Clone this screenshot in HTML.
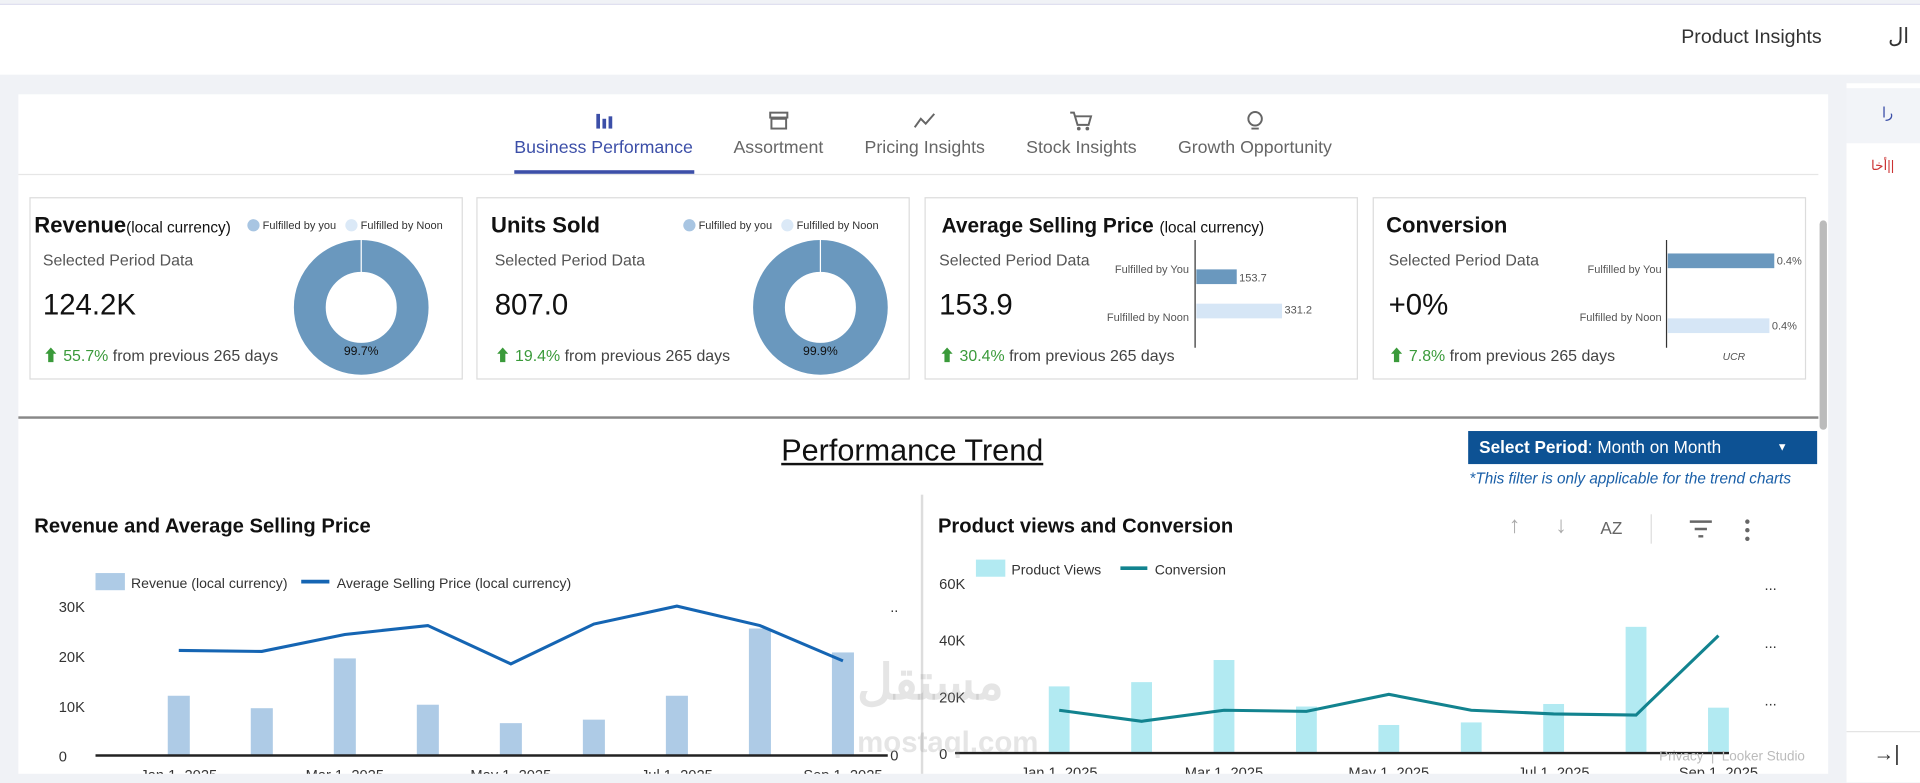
<!DOCTYPE html>
<html><head><meta charset="utf-8">
<style>
html,body{margin:0;padding:0;width:1920px;height:783px;overflow:hidden;background:#f0f2f6;font-family:"Liberation Sans","Noto Sans CJK SC",sans-serif}
#stage{position:absolute;left:0;top:0;width:1568px;height:639px;transform:scale(1.22449);transform-origin:0 0;background:#f0f2f6}
.abs{position:absolute}
.t{position:absolute;white-space:nowrap}
.card{position:absolute;top:161px;width:352px;height:147px;border:1px solid #dcdcdc;background:#fff}
.tab{position:absolute;top:113px;font-size:14.5px;color:#666;text-align:center}
.icon{position:absolute;top:90px;font-size:17px;color:#666}
.green{color:#3a9a3a}
</style></head><body>
<div id="stage">
  <div class="abs" style="left:0;top:3px;width:1568px;height:57px;background:#fff;border-top:1px solid #dde"></div>
  <div class="t" style="left:1373px;top:22px;font-size:16px;color:#333">Product Insights</div>
  <div class="t" style="left:1542px;top:20px;font-size:17px;color:#333">ال</div>
  <div class="abs" style="left:1508px;top:68px;width:60px;height:571px;background:#fff"></div>
  <div class="abs" style="left:1508px;top:72px;width:60px;height:45px;background:#f2f4f8"></div>
  <div class="t" style="left:1537px;top:85px;font-size:12px;color:#3c4fa8">را</div>
  <div class="t" style="left:1528px;top:129px;font-size:11px;color:#c33">أخا||</div>
  <div class="abs" style="left:1508px;top:597px;width:60px;height:1px;background:#e4e4e4"></div>
  <div class="t" style="left:1530px;top:606px;font-size:17px;color:#333">→|</div>

  <div class="abs" style="left:15px;top:77px;width:1478px;height:555px;background:#fff"></div>
  <div class="abs" style="left:1486px;top:180px;width:6px;height:171px;background:#bbb;border-radius:3px"></div>

  <!-- tabs -->
  <div class="icon" style="left:485px;color:#3c4fa8">
    <svg width="18" height="16"><rect x="2" y="3" width="3" height="12" fill="#3c4fa8"/><rect x="7" y="7" width="3" height="8" fill="#3c4fa8"/><rect x="12" y="5" width="3" height="10" fill="#3c4fa8"/></svg></div>
  <div class="tab" style="left:420px;color:#3c4fa8">Business Performance</div>
  <div class="abs" style="left:420px;top:139px;width:147px;height:3px;background:#3c4fa8"></div>
  <div class="icon" style="left:627px"><svg width="18" height="16"><rect x="2" y="2" width="14" height="4" fill="none" stroke="#666" stroke-width="1.6"/><rect x="3" y="7" width="12" height="8" fill="none" stroke="#666" stroke-width="1.6"/></svg></div>
  <div class="tab" style="left:599px">Assortment</div>
  <div class="icon" style="left:746px"><svg width="20" height="16"><polyline points="1,14 6,7 10,11 17,3" fill="none" stroke="#666" stroke-width="1.6"/></svg></div>
  <div class="tab" style="left:706px">Pricing Insights</div>
  <div class="icon" style="left:873px"><svg width="20" height="18"><polyline points="1,2 4,2 7,12 16,12 18,5 5,5" fill="none" stroke="#666" stroke-width="1.6"/><circle cx="8" cy="15" r="1.5" fill="#666"/><circle cx="15" cy="15" r="1.5" fill="#666"/></svg></div>
  <div class="tab" style="left:838px">Stock Insights</div>
  <div class="icon" style="left:1017px"><svg width="16" height="18"><circle cx="8" cy="7" r="5.5" fill="none" stroke="#666" stroke-width="1.6"/><line x1="5" y1="15" x2="11" y2="15" stroke="#666" stroke-width="1.6"/></svg></div>
  <div class="tab" style="left:962px">Growth Opportunity</div>
  <div class="abs" style="left:15px;top:142px;width:1470px;height:1px;background:#e6e6e6"></div>

  <!-- KPI cards -->
  <div class="card" style="left:24px"></div>
  <div class="t" style="left:28px;top:174px;font-size:18px;font-weight:bold;color:#111">Revenue<span style="font-size:12.5px;font-weight:normal">(local currency)</span></div>
  <div class="t" style="left:202px;top:179px;font-size:9px;color:#333"><span style="display:inline-block;width:10px;height:10px;border-radius:5px;background:#a8c5e2;vertical-align:-2px"></span> Fulfilled by you &nbsp;&nbsp;<span style="display:inline-block;width:10px;height:10px;border-radius:5px;background:#dbe9f7;vertical-align:-2px"></span> Fulfilled by Noon</div>
  <div class="t" style="left:35px;top:205px;font-size:13px;color:#555">Selected Period Data</div>
  <div class="t" style="left:35px;top:236px;font-size:24px;color:#111">124.2K</div>
  <div class="t" style="left:35px;top:280px;font-size:13px;color:#444"><span class="green">⬆ 55.7%</span> from previous 265 days</div>
  <svg class="abs" style="left:238px;top:194px" width="114" height="114"><circle cx="57" cy="57" r="42" fill="none" stroke="#6a98be" stroke-width="26"/><line x1="57" y1="2" x2="57" y2="30" stroke="#fff" stroke-width="1"/><text x="57" y="96" font-size="10" text-anchor="middle" fill="#111" font-family="Liberation Sans">99.7%</text></svg>

  <div class="card" style="left:389px"></div>
  <div class="t" style="left:401px;top:174px;font-size:18px;font-weight:bold;color:#111">Units Sold</div>
  <div class="t" style="left:558px;top:179px;font-size:9px;color:#333"><span style="display:inline-block;width:10px;height:10px;border-radius:5px;background:#a8c5e2;vertical-align:-2px"></span> Fulfilled by you &nbsp;&nbsp;<span style="display:inline-block;width:10px;height:10px;border-radius:5px;background:#dbe9f7;vertical-align:-2px"></span> Fulfilled by Noon</div>
  <div class="t" style="left:404px;top:205px;font-size:13px;color:#555">Selected Period Data</div>
  <div class="t" style="left:404px;top:236px;font-size:24px;color:#111">807.0</div>
  <div class="t" style="left:404px;top:280px;font-size:13px;color:#444"><span class="green">⬆ 19.4%</span> from previous 265 days</div>
  <svg class="abs" style="left:613px;top:194px" width="114" height="114"><circle cx="57" cy="57" r="42" fill="none" stroke="#6a98be" stroke-width="26"/><line x1="57" y1="2" x2="57" y2="30" stroke="#fff" stroke-width="1"/><text x="57" y="96" font-size="10" text-anchor="middle" fill="#111" font-family="Liberation Sans">99.9%</text></svg>

  <div class="card" style="left:755px"></div>
  <div class="t" style="left:769px;top:175px;font-size:17px;font-weight:bold;color:#111">Average Selling Price <span style="font-size:12.5px;font-weight:normal">(local currency)</span></div>
  <div class="t" style="left:767px;top:205px;font-size:13px;color:#555">Selected Period Data</div>
  <div class="t" style="left:767px;top:236px;font-size:24px;color:#111">153.9</div>
  <div class="t" style="left:767px;top:280px;font-size:13px;color:#444"><span class="green">⬆ 30.4%</span> from previous 265 days</div>
  <svg class="abs" style="left:890px;top:190px" width="200" height="100" font-family="Liberation Sans" font-size="9" fill="#555">
    <line x1="86" y1="6" x2="86" y2="94" stroke="#333" stroke-width="1"/>
    <text x="81" y="33" text-anchor="end">Fulfilled by You</text><rect x="87" y="30" width="33" height="12" fill="#6a98be"/><text x="122" y="40">153.7</text>
    <text x="81" y="72" text-anchor="end">Fulfilled by Noon</text><rect x="87" y="58" width="70" height="12" fill="#d6e6f6"/><text x="159" y="66">331.2</text>
  </svg>

  <div class="card" style="left:1121px"></div>
  <div class="t" style="left:1132px;top:174px;font-size:18px;font-weight:bold;color:#111">Conversion</div>
  <div class="t" style="left:1134px;top:205px;font-size:13px;color:#555">Selected Period Data</div>
  <div class="t" style="left:1134px;top:236px;font-size:24px;color:#111">+0%</div>
  <div class="t" style="left:1134px;top:280px;font-size:13px;color:#444"><span class="green">⬆ 7.8%</span> from previous 265 days</div>
  <svg class="abs" style="left:1275px;top:190px" width="200" height="110" font-family="Liberation Sans" font-size="9" fill="#555">
    <line x1="86" y1="6" x2="86" y2="94" stroke="#333" stroke-width="1"/>
    <text x="82" y="33" text-anchor="end">Fulfilled by You</text><rect x="87" y="17" width="87" height="12" fill="#6a98be"/><text x="176" y="26">0.4%</text>
    <text x="82" y="72" text-anchor="end">Fulfilled by Noon</text><rect x="87" y="70" width="83" height="12" fill="#d6e6f6"/><text x="172" y="79">0.4%</text>
    <text x="141" y="104" text-anchor="middle" font-style="italic" font-size="8.5">UCR</text>
  </svg>

  <div class="abs" style="left:15px;top:340px;width:1470px;height:2px;background:#888"></div>
  <div class="t" style="left:638px;top:354px;font-size:25px;color:#111;text-decoration:underline">Performance Trend</div>
  <div class="abs" style="left:1199px;top:352px;width:285px;height:27px;background:#0d5294;color:#fff;font-size:14px;line-height:27px">
    <span style="margin-left:9px"><b>Select Period</b>: Month on Month</span><span style="position:absolute;left:252px;font-size:9px">▼</span></div>
  <div class="t" style="left:1200px;top:384px;font-size:12.5px;font-style:italic;color:#1a5fa8">*This filter is only applicable for the trend charts</div>
  <div class="abs" style="left:752px;top:404px;width:2px;height:228px;background:#ddd"></div>

  <div class="t" style="left:28px;top:421px;font-size:16.5px;font-weight:bold;color:#111">Revenue and Average Selling Price</div>
  <div class="t" style="left:766px;top:421px;font-size:16.5px;font-weight:bold;color:#111">Product views and Conversion</div>
  <div class="t" style="left:1232px;top:419px;font-size:19px;color:#aaa">↑</div>
  <div class="t" style="left:1270px;top:419px;font-size:19px;color:#aaa">↓</div>
  <div class="t" style="left:1307px;top:423px;font-size:14px;color:#666">AZ</div>
  <div class="abs" style="left:1348px;top:420px;width:1px;height:24px;background:#ddd"></div>
  <svg class="abs" style="left:1379px;top:424px" width="20" height="16"><line x1="1" y1="2" x2="19" y2="2" stroke="#666" stroke-width="2"/><line x1="5" y1="8" x2="15" y2="8" stroke="#666" stroke-width="2"/><line x1="8" y1="14" x2="12" y2="14" stroke="#666" stroke-width="2"/></svg>
  <svg class="abs" style="left:1423px;top:423px" width="8" height="20"><circle cx="4" cy="3" r="1.8" fill="#666"/><circle cx="4" cy="10" r="1.8" fill="#666"/><circle cx="4" cy="17" r="1.8" fill="#666"/></svg>

  <svg id="chart1" class="abs" style="left:0;top:0" width="752" height="632" font-family="Liberation Sans"></svg>
  <svg id="chart2" class="abs" style="left:0;top:0" width="1500" height="632" font-family="Liberation Sans"></svg>

  <div class="t" style="left:700px;top:535px;font-size:40px;font-weight:bold;color:rgba(150,150,150,0.25)">مستقل</div>
  <div class="t" style="left:700px;top:593px;font-size:24px;font-weight:bold;color:rgba(150,150,150,0.25)">mostaql.com</div>
  <div class="t" style="left:1355px;top:612px;font-size:11px;color:#bbb">Privacy &nbsp;|&nbsp; Looker Studio</div>
  <div class="abs" style="left:0;top:632px;width:1508px;height:7px;background:#f0f2f6"></div>
</div>
<script>
const NS="http://www.w3.org/2000/svg";
const months=["Jan 1, 2025","Feb 1, 2025","Mar 1, 2025","Apr 1, 2025","May 1, 2025","Jun 1, 2025","Jul 1, 2025","Aug 1, 2025","Sep 1, 2025"];
const revenue=[12000,9500,19500,10200,6500,7200,12000,25500,20700];
const asp=[211,209,243,261,184,264,300,261,190];
const revTicks=[0,10000,20000,30000];
const revTickLabels=["0","10K","20K","30K"];
const views=[23500,25000,32800,16400,9900,10800,17300,44500,16000];
const conversion=[0.151,0.112,0.151,0.147,0.207,0.151,0.138,0.134,0.414];
const viewTicks=[0,20000,40000,60000];
const viewTickLabels=["0","20K","40K","60K"];

function mk(svg,tag,attrs,name){const e=document.createElementNS(NS,tag);for(const k in attrs)e.setAttribute(k,attrs[k]);


svg.appendChild(e);return e;}

function drawChart(svg,o){
  const x=i=>o.x0+o.step*i;
  const yL=v=>o.yBase-(v/o.lMax)*(o.yBase-o.yTop);
  const yR=v=>o.yBase-(v/o.rMax)*(o.yBase-o.yTop);
  o.ticks.forEach((t,i)=>{const tx=mk(svg,'text',{x:o.tickX,y:yL(t)+5,'font-size':12,fill:'#333'},'y-tick-label');tx.textContent=o.tickLabels[i];});
  o.bars.forEach((v,i)=>{mk(svg,'rect',{x:x(i)-o.bw/2,y:yL(v),width:o.bw,height:o.yBase-yL(v),fill:o.barColor},'bar');});
  mk(svg,'line',{x1:o.axisX0,x2:o.axisX1,y1:o.yBase,y2:o.yBase,stroke:'#222','stroke-width':2},'x-axis');
  mk(svg,'polyline',{points:o.line.map((v,i)=>x(i)+','+yR(v)).join(' '),fill:'none',stroke:o.lineColor,'stroke-width':2.5},'line-series');
  months.forEach((m,i)=>{if(i%2==0){const tx=mk(svg,'text',{x:x(i),y:o.yBase+20,'font-size':12,fill:'#333','text-anchor':'middle'},'x-tick-label');tx.textContent=m;}});
}
const c1=document.getElementById('chart1');
drawChart(c1,{x0:146,step:67.8,bw:18,yBase:617,yTop:495,lMax:30000,rMax:300,ticks:revTicks,tickLabels:revTickLabels,tickX:48,bars:revenue,line:asp,barColor:'#aecbe6',lineColor:'#1565b3',axisX0:78,axisX1:725});
const c2=document.getElementById('chart2');
drawChart(c2,{x0:865,step:67.3,bw:17,yBase:615,yTop:476,lMax:60000,rMax:0.6,ticks:viewTicks,tickLabels:viewTickLabels,tickX:767,bars:views,line:conversion,barColor:'#b2eaf2',lineColor:'#12838f',axisX0:780,axisX1:1412});
// right axis markers
[[727,500,'..'],[727,621,'0'],[1441,482,'...'],[1441,529,'...'],[1441,576,'...']].forEach(a=>{const s=a[0]<752?c1:c2;const t=mk(s,'text',{x:a[0],y:a[1],'font-size':12,fill:'#333'},'right-axis-label');t.textContent=a[2];});
// legends
mk(c1,'rect',{x:78,y:468,width:24,height:14,fill:'#aecbe6'},'legend-revenue-swatch');
let t=mk(c1,'text',{x:107,y:480,'font-size':11.5,fill:'#333'},'legend-revenue');t.textContent='Revenue (local currency)';
mk(c1,'line',{x1:246,x2:269,y1:475,y2:475,stroke:'#1565b3','stroke-width':3},'legend-asp-swatch');
t=mk(c1,'text',{x:275,y:480,'font-size':11.5,fill:'#333'},'legend-asp');t.textContent='Average Selling Price (local currency)';
mk(c2,'rect',{x:797,y:457,width:24,height:14,fill:'#b2eaf2'},'legend-views-swatch');
t=mk(c2,'text',{x:826,y:469,'font-size':11.5,fill:'#333'},'legend-views');t.textContent='Product Views';
mk(c2,'line',{x1:915,x2:937,y1:464,y2:464,stroke:'#12838f','stroke-width':3},'legend-conversion-swatch');
t=mk(c2,'text',{x:943,y:469,'font-size':11.5,fill:'#333'},'legend-conversion');t.textContent='Conversion';
</script>
</body></html>
